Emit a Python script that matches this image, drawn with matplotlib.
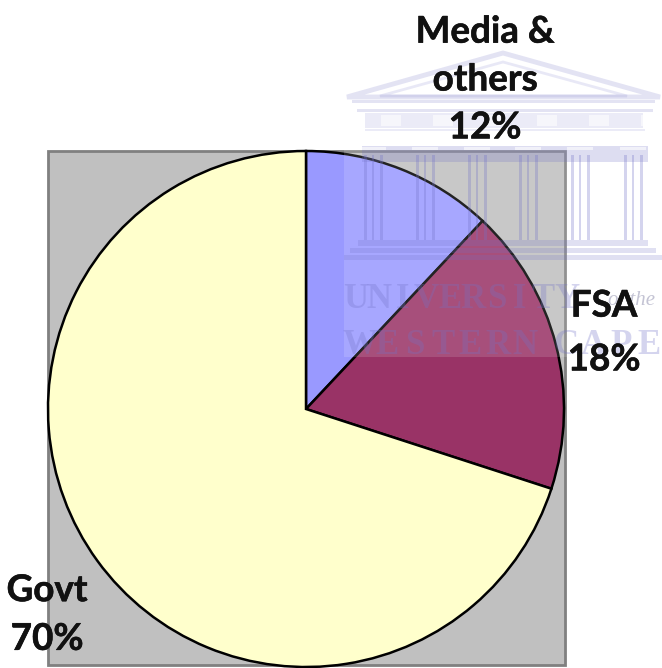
import matplotlib
matplotlib.use("Agg")
import matplotlib.pyplot as plt
import matplotlib.patheffects as pe
from matplotlib.patches import Rectangle, Polygon

labels = ["Media &\nothers\n12%", "FSA\n18%", "Govt\n70%"]
shares = [12, 18, 70]
colors = ["#9999FF", "#993366", "#FFFFCC"]

# label centres in pixels, y measured from the top
label_x = [485, 604, 47]
label_y = [80, 333, 615]
label_gap = [1.55, 1.77, 1.58]

# crest columns, left edges
col_x = [364, 416, 468, 519, 571, 624]

H = 668

def py(y):
    return H - y

fig = plt.figure(figsize=(6.62, 6.68), dpi=100)
ax = fig.add_axes([0, 0, 1, 1])
ax.set_xlim(0, 662)
ax.set_ylim(0, H)
ax.axis("off")

# plot area
ax.add_patch(Rectangle((48, py(665)), 517, 514, fc="#C0C0C0", ec="#808080", lw=2, zorder=1))

wedges, _ = ax.pie(shares, colors=colors, startangle=90, counterclock=False,
                   center=(306, py(409)), radius=258, frame=False,
                   wedgeprops=dict(ec="black", lw=1.8, zorder=2))
ax.set_xlim(0, 662)
ax.set_ylim(0, H)
ax.set_aspect("auto")

# university crest over the chart
wm = (0.45, 0.45, 0.78)
ax.add_patch(Rectangle((344, py(357)), 318, 305, fc="white", ec="none", alpha=0.14, zorder=3))

def band(x0, x1, y0, y1, a=0.2, c=wm):
    ax.add_patch(Rectangle((x0, py(y1)), x1 - x0, y1 - y0, fc=c, ec="none", alpha=a, zorder=4))

# pediment
ax.add_patch(Polygon([(347, py(97)), (503, py(53)), (660, py(97))], closed=True, fill=False,
                     ec=wm, lw=3.5, alpha=0.2, zorder=4))
ax.add_patch(Polygon([(380, py(96)), (503, py(62)), (627, py(96))], closed=True, fill=False,
                     ec=wm, lw=2, alpha=0.16, zorder=4))
band(352, 655, 100, 103, 0.2)
band(357, 653, 109, 112, 0.2)
# frieze
band(365, 643, 113, 128, 0.14)
for x in range(367, 640, 52):
    band(x + 14, x + 34, 115, 126, 0.6, "white")
band(365, 645, 129, 131, 0.14)
# cornice
band(362, 648, 146, 162, 0.24)
for x in col_x:
    band(x - 4, x + 22, 147, 150, 0.6, "white")
# columns
for x in col_x:
    band(x, x + 3, 155, 240, 0.3)
    band(x + 8, x + 10, 155, 240, 0.3)
    band(x + 16, x + 19, 155, 240, 0.3)
# steps
band(358, 648, 240, 246, 0.22)
band(350, 656, 248, 253, 0.22)
band(344, 662, 255, 260, 0.22)

letter_font = dict(family="Liberation Serif", fontweight="bold", fontsize=25,
                   color=wm, alpha=0.3, ha="center", va="center", zorder=4)
for i, ch in enumerate("UNIVERSITY"):
    ax.text(356 + i * 23.4, py(299), ch, **letter_font)
for i, ch in enumerate("WESTERN"):
    ax.text(360 + i * 27.5, py(346), ch, **letter_font)
for i, ch in enumerate("CAPE"):
    ax.text(566 + i * 27.5, py(346), ch, **letter_font)
ax.text(632, py(300), "of the", family="Liberation Serif", style="italic", fontsize=15,
        color="#C4C4D4", ha="center", va="center", zorder=4)

for t, x, y, g in zip(labels, label_x, label_y, label_gap):
    ax.text(x, py(y), t, family="Lato", fontweight="bold", fontsize=26.5, color="#111111",
            ha="center", va="center", linespacing=g, zorder=5,
            path_effects=[pe.withStroke(linewidth=0.4, foreground="#111111")])

fig.savefig("out.png", dpi=100)
